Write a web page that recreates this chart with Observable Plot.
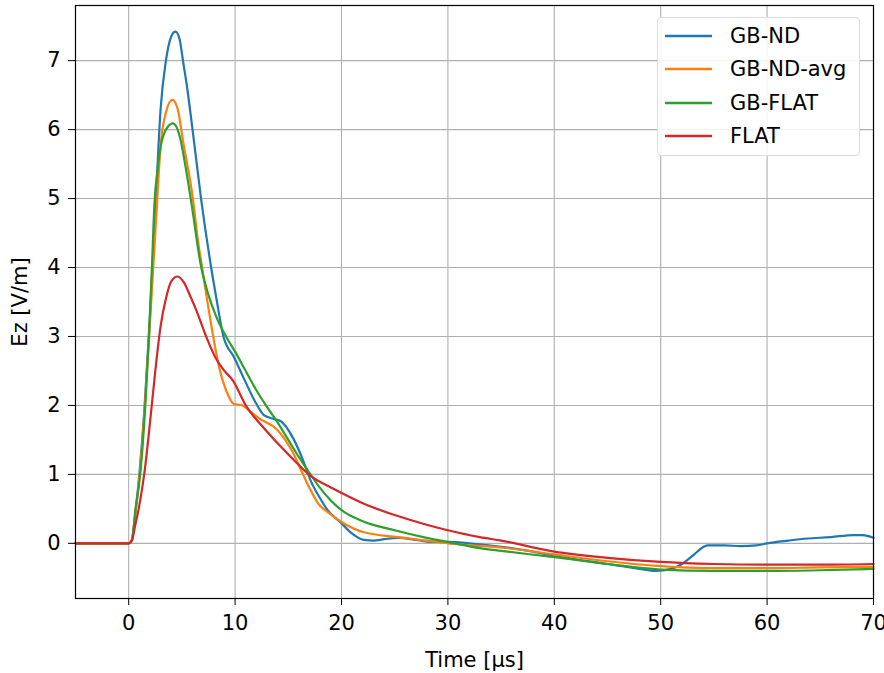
<!DOCTYPE html>
<html>
<head>
<meta charset="utf-8">
<script src="https://cdn.jsdelivr.net/npm/d3@7"></script>
<script src="https://cdn.jsdelivr.net/npm/@observablehq/plot@0.6"></script>
<style>
  html, body { margin: 0; padding: 0; background: #fff; }
  #wrap { position: relative; width: 884px; height: 673px; font-family: "DejaVu Sans", sans-serif; }
  #legend { position: absolute; left: 657px; top: 17px; width: 203px; height: 139px;
    border: 1px solid #dcdcdc; border-radius: 4px; background: rgba(255,255,255,0.85);
    box-sizing: border-box; font-size: 21px; color: #000; }
  .item { position: absolute; left: 7px; height: 24px; display: flex; align-items: center; }
  .item svg { margin-right: 18px; }
</style>
</head>
<body>
<div id="wrap"><div id="legend"></div></div>
<script>
// ---- data ----
const seriesNames = ["GB-ND", "GB-ND-avg", "GB-FLAT", "FLAT"];
const seriesColors = ["#1f77b4", "#ff7f0e", "#2ca02c", "#d62728"];
const xTicks = [0, 10, 20, 30, 40, 50, 60, 70];
const yTicks = [0, 1, 2, 3, 4, 5, 6, 7];

const tGBND = [-5, 0, 0.3, 0.6, 1.0, 1.5, 2.0, 2.5, 3.0, 3.5, 4.0, 4.4, 4.8, 5.1, 5.5, 6.0, 6.8, 7.75, 8.3, 8.9, 9.9, 10.8, 11.8, 12.7, 13.5, 14.3, 15.4, 16.4, 17.1, 18.0, 18.7, 20, 21, 22.1, 23, 24, 25.3, 27, 28.4, 30, 32, 35, 38, 40, 45, 48, 49.5, 51, 52, 53, 54.4, 56, 57.5, 59, 60, 62, 63.8, 66, 68.1, 69, 70];
const vGBND = [0, 0, 0.05, 0.4, 1.0, 2.0, 3.3, 4.8, 6.3, 7.0, 7.35, 7.42, 7.3, 7.0, 6.6, 6.0, 5.0, 4.0, 3.5, 3.0, 2.7, 2.4, 2.08, 1.86, 1.81, 1.77, 1.54, 1.2, 0.91, 0.65, 0.48, 0.29, 0.14, 0.05, 0.04, 0.06, 0.08, 0.05, 0.02, 0.02, 0.0, -0.05, -0.12, -0.18, -0.3, -0.37, -0.40, -0.37, -0.30, -0.18, -0.03, -0.03, -0.04, -0.03, 0.0, 0.04, 0.07, 0.09, 0.12, 0.12, 0.08];

const tGBNDavg = [-5, 0, 0.3, 0.6, 1.0, 1.5, 2.0, 2.5, 3.05, 3.5, 4.1, 4.6, 5.1, 6.05, 6.5, 6.9, 7.3, 7.9, 8.5, 9.15, 9.9, 10.7, 11.3, 12.2, 14.0, 14.8, 15.5, 16.2, 17.0, 17.8, 19, 20, 22.1, 25.3, 28, 30, 35, 40, 45, 50, 55, 60, 65, 70];
const vGBNDavg = [0, 0, 0.05, 0.4, 0.95, 1.95, 3.2, 4.5, 5.85, 6.25, 6.43, 6.3, 5.84, 4.98, 4.4, 4.0, 3.6, 3.04, 2.55, 2.22, 2.02, 2.0, 1.93, 1.82, 1.64, 1.48, 1.3, 1.06, 0.8, 0.58, 0.42, 0.31, 0.16, 0.09, 0.04, 0.0, -0.06, -0.16, -0.26, -0.33, -0.36, -0.36, -0.35, -0.34];

const tGBFLAT = [-5, 0, 0.3, 0.64, 1.08, 1.56, 1.9, 2.18, 2.43, 2.7, 3.0, 3.5, 4.15, 4.8, 5.3, 5.86, 6.82, 7.5, 8.2, 9.15, 10, 11, 12, 12.9, 14, 15, 16, 17, 18, 19, 20, 22, 25, 28, 30, 33, 35, 40, 45, 50, 55, 60, 65, 70];
const vGBFLAT = [0, 0, 0.05, 0.5, 1.0, 2.0, 3.0, 4.0, 4.95, 5.4, 5.75, 6.0, 6.09, 5.9, 5.5, 4.97, 4.0, 3.6, 3.3, 3.0, 2.78, 2.5, 2.22, 2.0, 1.75, 1.5, 1.25, 1.02, 0.8, 0.62, 0.48, 0.32, 0.19, 0.08, 0.02, -0.07, -0.11, -0.2, -0.3, -0.38, -0.40, -0.40, -0.39, -0.37];

const tFLAT = [-5, 0, 0.3, 0.6, 1.0, 1.5, 2.0, 2.5, 3.0, 3.5, 4.0, 4.6, 5.2, 5.8, 6.3, 7.28, 8.2, 9.0, 9.8, 11, 12.6, 14, 15.7, 17, 19, 20, 22, 25, 28, 30, 33, 35, 40, 45, 50, 55, 60, 65, 70];
const vFLAT = [0, 0, 0.04, 0.25, 0.55, 1.05, 1.75, 2.5, 3.15, 3.55, 3.8, 3.87, 3.78, 3.58, 3.4, 3.0, 2.68, 2.5, 2.36, 2.0, 1.69, 1.45, 1.18, 0.99, 0.81, 0.73, 0.58, 0.41, 0.27, 0.19, 0.09, 0.04, -0.12, -0.21, -0.27, -0.3, -0.31, -0.31, -0.30];

// ---- build table ----
const seriesT = [tGBND, tGBNDavg, tGBFLAT, tFLAT];
const seriesV = [vGBND, vGBNDavg, vGBFLAT, vFLAT];
const rows = [];
seriesNames.forEach((name, i) => {
  seriesT[i].forEach((t, j) => rows.push({series: name, t, v: seriesV[i][j]}));
});

const chart = Plot.plot({
  width: 884,
  height: 673,
  marginLeft: 75,
  marginRight: 11,
  marginTop: 5,
  marginBottom: 75,
  style: {fontFamily: "DejaVu Sans, sans-serif", fontSize: "21px", color: "#000", background: "transparent", overflow: "visible"},
  x: {domain: [-5, 70]},
  y: {domain: [-0.8, 7.8]},
  color: {domain: seriesNames, range: seriesColors},
  marks: [
    Plot.gridX(xTicks, {stroke: "#b0b0b0", strokeOpacity: 1, strokeWidth: 1.1}),
    Plot.gridY(yTicks, {stroke: "#b0b0b0", strokeOpacity: 1, strokeWidth: 1.1}),
    Plot.line(rows, {x: "t", y: "v", z: "series", stroke: "series", strokeWidth: 2.2, curve: "monotone-x"}),
    Plot.frame({stroke: "#000", strokeWidth: 1.2}),
    Plot.axisX(xTicks, {tickSize: 7, tickPadding: 10, tickFormat: d3.format("d"), label: "Time [µs]", labelAnchor: "center", labelArrow: "none", labelOffset: 68}),
    Plot.axisY(yTicks, {tickSize: 7, tickPadding: 8, tickFormat: d3.format("d"), label: "Ez [V/m]", labelAnchor: "center", labelArrow: "none", labelOffset: 63})
  ]
});
const wrap = document.getElementById("wrap");
wrap.insertBefore(chart, wrap.firstChild);

// legend
const legend = document.getElementById("legend");
seriesNames.forEach((name, i) => {
  const item = document.createElement("div");
  item.className = "item";
  item.style.top = (6 + i * 33.3) + "px";
  item.innerHTML = `<svg width="47" height="6"><line x1="0" x2="47" y1="3" y2="3" stroke="${seriesColors[i]}" stroke-width="2.4"/></svg><span>${name}</span>`;
  legend.appendChild(item);
});
</script>
</body>
</html>
